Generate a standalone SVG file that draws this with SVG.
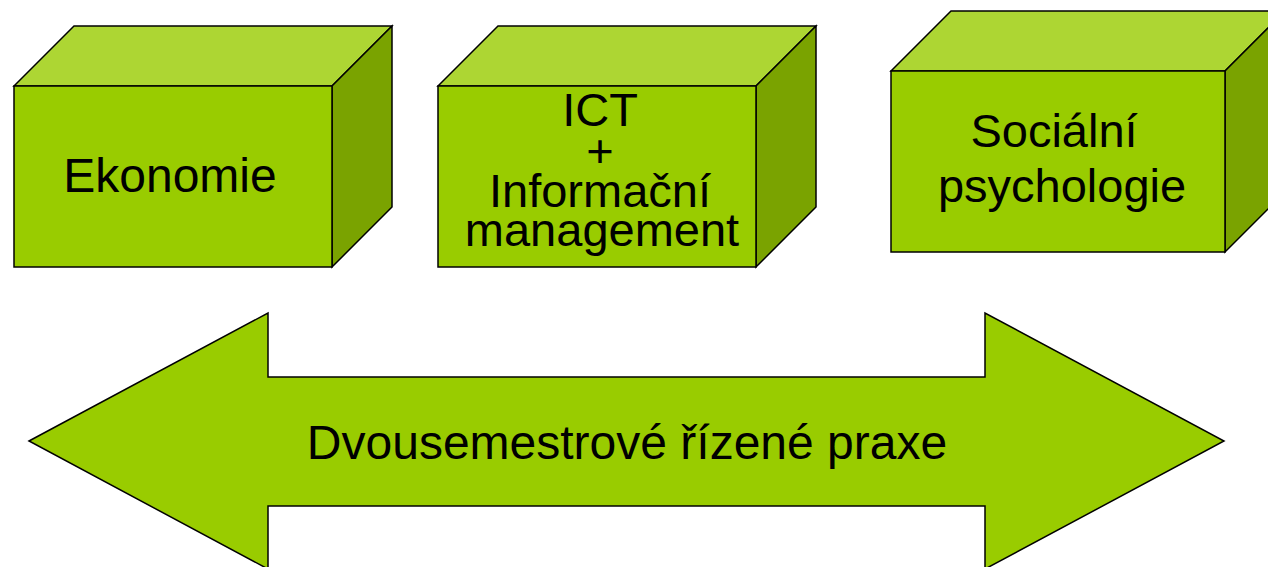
<svg xmlns="http://www.w3.org/2000/svg" width="1268" height="567" viewBox="0 0 1268 567">
<style>
.front{fill:#99CC00;stroke:#000;stroke-width:1.5;stroke-linejoin:miter}
.top{fill:#ADD633;stroke:#000;stroke-width:1.5}
.side{fill:#7AA300;stroke:#000;stroke-width:1.5}
.arrow{fill:#99CC00;stroke:#000;stroke-width:1.5}
text{font-family:"Liberation Sans",Arial,sans-serif;font-size:48px;fill:#000;text-anchor:middle}
.tight{font-size:47px}
</style>
<rect width="1268" height="567" fill="#fff"/>
<g id="box-ekonomie">
<polygon class="top" points="14,86 74,26 392,26 332,86"/>
<polygon class="side" points="332,86 392,26 392,207 332,267"/>
<rect class="front" x="14" y="86" width="318" height="181"/>
<text x="170" y="192">Ekonomie</text>
</g>
<g id="box-ict">
<polygon class="top" points="438,86 498,26 816,26 756,86"/>
<polygon class="side" points="756,86 816,26 816,207 756,267"/>
<rect class="front" x="438" y="86" width="318" height="181"/>
<text class="tight" x="600" y="126">ICT</text>
<text class="tight" x="600" y="167">+</text>
<text class="tight" x="600" y="207">Informační</text>
<text class="tight" x="602" y="246">management</text>
</g>
<g id="box-socialni">
<polygon class="top" points="891,71 951,11 1285,11 1225,71"/>
<polygon class="side" points="1225,71 1285,11 1285,192 1225,252"/>
<rect class="front" x="891" y="71" width="334" height="181"/>
<text class="tight" x="1054" y="147">Sociální</text>
<text class="tight" x="1062" y="202">psychologie</text>
</g>
<g id="connectors">
<g id="arrow-praxe">
<polygon class="arrow" points="29,441 268,313 268,377 985,377 985,313 1224,441 985,569 985,506 268,506 268,569"/>
<text x="627" y="459">Dvousemestrové řízené praxe</text>
</g>
</g>
</svg>
